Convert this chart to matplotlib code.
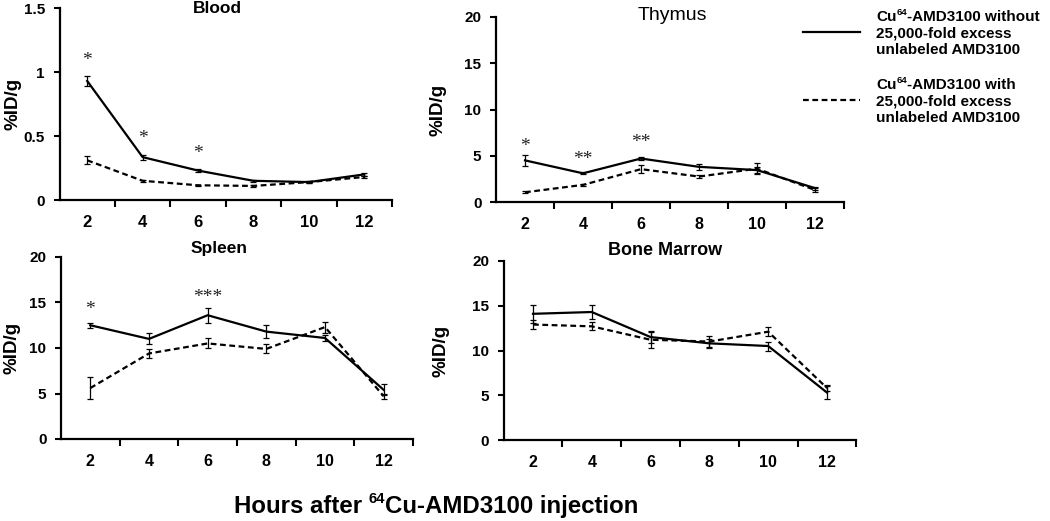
import matplotlib
matplotlib.use("Agg")
import matplotlib.pyplot as plt
from matplotlib.lines import Line2D
from matplotlib.ticker import FixedLocator, FormatStrFormatter

plt.rcParams["font.family"] = ["Liberation Sans", "DejaVu Sans"]

hours = [2, 4, 6, 8, 10, 12]

# Blood
blood_without = [0.93, 0.335, 0.23, 0.15, 0.14, 0.20]
blood_without_err = [0.04, 0.02, 0.012, 0.01, 0.008, 0.012]
blood_with = [0.31, 0.15, 0.115, 0.11, 0.14, 0.18]
blood_with_err = [0.03, 0.01, 0.006, 0.006, 0.008, 0.01]

# Thymus
thymus_without = [4.5, 3.1, 4.7, 3.8, 3.45, 1.5]
thymus_without_err = [0.62, 0.12, 0.12, 0.3, 0.3, 0.15]
thymus_with = [1.05, 1.85, 3.55, 2.75, 3.6, 1.3]
thymus_with_err = [0.1, 0.12, 0.45, 0.2, 0.6, 0.2]

# Spleen
spleen_without = [12.5, 11.0, 13.6, 11.8, 11.1, 5.4]
spleen_without_err = [0.25, 0.6, 0.8, 0.75, 0.3, 0.6]
spleen_with = [5.6, 9.4, 10.5, 9.9, 12.3, 4.7]
spleen_with_err = [1.2, 0.5, 0.55, 0.5, 0.6, 0.3]

# Bone marrow
marrow_without = [14.1, 14.3, 11.5, 10.8, 10.5, 5.3]
marrow_without_err = [1.0, 0.8, 0.7, 0.5, 0.5, 0.7]
marrow_with = [12.9, 12.7, 11.2, 11.0, 12.1, 5.8]
marrow_with_err = [0.5, 0.45, 0.9, 0.6, 0.5, 0.3]

# significance marks: (hour, y, text)
blood_marks = [(2, 1.09, "*"), (4, 0.48, "*"), (6, 0.36, "*")]
thymus_marks = [(2, 6.05, "*"), (4, 4.6, "**"), (6, 6.4, "**")]
spleen_marks = [(2, 14.2, "*"), (6, 15.6, "***")]

# text pieces: (text, superscript?)
legend_without = [[("Cu", False), ("64", True), ("-AMD3100 without", False)],
                  [("25,000-fold excess", False)], [("unlabeled AMD3100", False)]]
legend_with = [[("Cu", False), ("64", True), ("-AMD3100 with", False)],
               [("25,000-fold excess", False)], [("unlabeled AMD3100", False)]]
x_title = [("Hours after ", False), ("64", True), ("Cu-AMD3100 injection", False)]

W, H = 1050, 521
fig = plt.figure(figsize=(W / 100, H / 100), dpi=100)
renderer = fig.canvas.get_renderer()


def px_axes(x0, x1, ytop, ybot):
    return fig.add_axes([x0 / W, 1 - ybot / H, (x1 - x0) / W, (ybot - ytop) / H])


def rich_text(x_px, y_px, pieces, size, ha="left"):
    """Write a line made of normal and superscript pieces; y_px is the baseline."""
    items = []
    for txt, sup in pieces:
        fs = size * 0.62 if sup else size
        t = fig.text(0, 0, txt, fontsize=fs, fontweight="bold", va="baseline", ha="left")
        items.append((t, sup, t.get_window_extent(renderer).width))
    total = sum(w for _, _, w in items)
    x = x_px - total / 2 if ha == "center" else x_px
    for t, sup, w in items:
        lift = size * 0.40 * 100 / 72 if sup else 0
        t.set_position((x / W, 1 - (y_px - lift) / H))
        x += w


panels = [
    dict(rect=(59.5, 392, 8, 200), title="Blood", tpos=(0.475, 0.995), tw="bold", tfs=12.5,
         ylim=(0, 1.5), yticks=[0, 0.5, 1, 1.5], lab=-0.113, xfs=12,
         data=(blood_without, blood_without_err, blood_with, blood_with_err), marks=blood_marks),
    dict(rect=(496, 844, 17, 202), title="Thymus", tpos=(0.506, 1.01), tw="normal", tfs=14,
         ylim=(0, 20), yticks=[0, 5, 10, 15, 20], lab=-0.141, xfs=11.5,
         data=(thymus_without, thymus_without_err, thymus_with, thymus_with_err), marks=thymus_marks),
    dict(rect=(61, 413, 257, 439), title="Spleen", tpos=(0.45, 1.044), tw="bold", tfs=12.5,
         ylim=(0, 20), yticks=[0, 5, 10, 15, 20], lab=-0.116, xfs=11.5,
         data=(spleen_without, spleen_without_err, spleen_with, spleen_with_err), marks=spleen_marks),
    dict(rect=(503.6, 856.4, 261, 440), title="Bone Marrow", tpos=(0.457, 1.056), tw="bold", tfs=13,
         ylim=(0, 20), yticks=[0, 5, 10, 15, 20], lab=-0.152, xfs=11.5,
         data=(marrow_without, marrow_without_err, marrow_with, marrow_with_err), marks=[]),
]

for p in panels:
    ax = px_axes(*p["rect"])
    wo, wo_err, wi, wi_err = p["data"]
    ax.errorbar(hours, wo, yerr=wo_err, color="black", lw=1.6, ls="-",
                elinewidth=0.9, capsize=2.5, capthick=0.9)
    ax.errorbar(hours, wi, yerr=wi_err, color="black", lw=1.6, ls=(0, (2.6, 1.6)),
                elinewidth=0.9, capsize=2.5, capthick=0.9)
    for hx, hy, txt in p["marks"]:
        ax.text(hx, hy, txt, ha="center", va="center", fontsize=14,
                family=["Liberation Serif", "DejaVu Serif"], color="#222222")
    ax.set_xlim(1, 13)
    ax.set_ylim(*p["ylim"])
    ax.set_xticks(hours)
    ax.set_xticklabels([str(h) for h in hours], fontsize=p["xfs"], fontweight="bold")
    ax.xaxis.set_minor_locator(FixedLocator([3, 5, 7, 9, 11, 13]))
    ax.tick_params(axis="x", which="major", length=0, pad=11)
    ax.tick_params(axis="x", which="minor", length=5, width=1.5, direction="out")
    ax.set_yticks(p["yticks"])
    ax.yaxis.set_major_formatter(FormatStrFormatter("%g"))
    ax.tick_params(axis="y", length=4.5, width=1.5, direction="out", pad=6)
    for lbl in ax.get_yticklabels():
        lbl.set_fontsize(11)
        lbl.set_fontweight("bold")
    for side in ("top", "right"):
        ax.spines[side].set_visible(False)
    for side in ("left", "bottom"):
        ax.spines[side].set_linewidth(1.6)
    ax.set_ylabel("%ID/g", fontsize=13.5, fontweight="bold")
    ax.yaxis.set_label_coords(p["lab"], 0.5)
    ax.text(p["tpos"][0], p["tpos"][1], p["title"], transform=ax.transAxes,
            ha="center", va="center", fontsize=p["tfs"], fontweight=p["tw"])

# legend, drawn by hand: sample line beside a three-line label
for lines, ls, ymid in ((legend_without, "-", 32), (legend_with, (0, (2.6, 1.6)), 100)):
    fig.add_artist(Line2D([803 / W, 860 / W], [1 - ymid / H, 1 - ymid / H],
                          transform=fig.transFigure, color="black", lw=1.6, ls=ls))
    for k, pieces in enumerate(lines):
        rich_text(876, ymid + (k - 1) * 16.8 + 5.5, pieces, 11)

rich_text(436.5, 513, x_title, 17.3, ha="center")

fig.savefig("out.png", dpi=100)
